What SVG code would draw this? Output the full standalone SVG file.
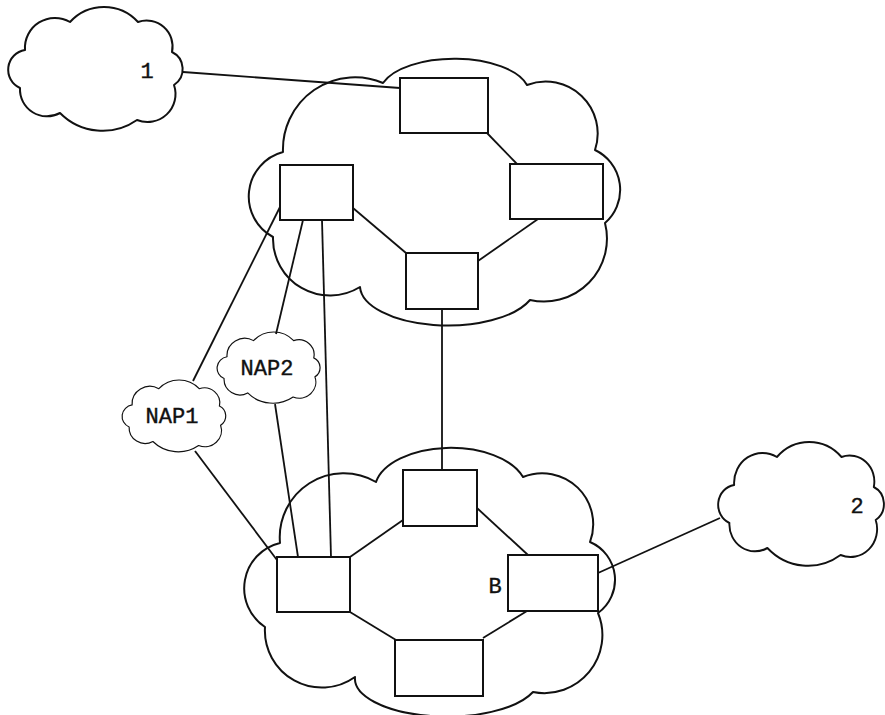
<svg xmlns="http://www.w3.org/2000/svg" width="885" height="715" viewBox="0 0 885 715">
  <style>
    .cloud { fill: none; stroke: #111; stroke-width: 2; vector-effect: non-scaling-stroke; stroke-linejoin: round; }
    .box { fill: #fff; stroke: #111; stroke-width: 2; }
    .link { stroke: #111; stroke-width: 1.8; fill: none; }
    .label { font-family: "Liberation Mono", "Courier New", monospace; font-size: 22px; fill: #111; stroke: #111; stroke-width: 0.4; text-anchor: middle; dominant-baseline: central; }
  </style>
  <defs>
    <!-- small cloud outline, local box 175 x 124 -->
    <path id="smallCloud" d="M62,15 A46,46 0 0 1 130,15 A26,26 0 0 1 164,45 A19,19 0 0 1 166,78 A28,28 0 0 1 129,113 A60,60 0 0 1 52,106 A27,27 0 0 1 12,81 A20,20 0 0 1 17,43 A30,30 0 0 1 62,15 Z"/>
  </defs>
  <rect width="885" height="715" fill="#fff"/>

  <!-- connectors -->
  <g id="connectors">
    <line class="link" x1="183" y1="72" x2="400" y2="88"/>
    <line class="link" x1="487" y1="133" x2="517" y2="164"/>
    <line class="link" x1="353" y1="208" x2="406" y2="253"/>
    <line class="link" x1="538" y1="219" x2="478" y2="261"/>
    <line class="link" x1="442" y1="309" x2="442" y2="470"/>
    <line class="link" x1="280" y1="207" x2="193" y2="381"/>
    <line class="link" x1="303" y1="220" x2="276" y2="334"/>
    <line class="link" x1="322" y1="220" x2="331" y2="557"/>
    <line class="link" x1="275" y1="404" x2="298" y2="557"/>
    <line class="link" x1="195" y1="451" x2="277" y2="560"/>
    <line class="link" x1="350" y1="557" x2="403" y2="520"/>
    <line class="link" x1="477" y1="508" x2="528" y2="555"/>
    <line class="link" x1="350" y1="612" x2="396" y2="640"/>
    <line class="link" x1="527" y1="611" x2="483" y2="638"/>
    <line class="link" x1="598" y1="573" x2="720" y2="518"/>
  </g>

  <!-- external network 1 -->
  <g id="cloud1">
    <use href="#smallCloud" class="cloud" transform="translate(8,7)"/>
    <text class="label" x="147" y="72">1</text>
  </g>

  <!-- external network 2 -->
  <g id="cloud2">
    <use href="#smallCloud" class="cloud" transform="translate(718,442) scale(0.95,1)"/>
    <text class="label" x="857" y="507">2</text>
  </g>

  <!-- access points -->
  <g id="nap1">
    <use href="#smallCloud" class="cloud" transform="translate(122,380) scale(0.594,0.58)"/>
    <text class="label" x="172" y="417">NAP1</text>
  </g>
  <g id="nap2">
    <use href="#smallCloud" class="cloud" transform="translate(217,332) scale(0.59,0.575)"/>
    <text class="label" x="267" y="369">NAP2</text>
  </g>

  <!-- upper backbone -->
  <g id="backboneA">
    <path class="cloud" d="M383,83 A75,35 0 0 1 527,85 A52,52 0 0 1 595,150 A44,44 0 0 1 605,223 A63,63 0 0 1 530,300 A88,40 0 0 1 360,287 A57,57 0 0 1 273,237 A46,46 0 0 1 283,152 A72,72 0 0 1 383,83 Z"/>
    <rect id="a1" class="box" x="400" y="78" width="88" height="55"/>
    <rect id="a2" class="box" x="280" y="165" width="73" height="55"/>
    <rect id="a3" class="box" x="510" y="164" width="93" height="55"/>
    <rect id="a4" class="box" x="406" y="253" width="72" height="56"/>
  </g>

  <!-- lower backbone -->
  <g id="backboneB">
    <path class="cloud" d="M376,482 A76,42 0 0 1 523,477 A51,51 0 0 1 590,542 A41,41 0 0 1 598,613 A58,58 0 0 1 533,692 A92,38 0 0 1 355,677 A57,57 0 0 1 265,627 A46.5,46.5 0 0 1 280,543 A64,64 0 0 1 376,482 Z"/>
    <rect id="b1" class="box" x="403" y="470" width="74" height="56"/>
    <rect id="b2" class="box" x="277" y="557" width="73" height="55"/>
    <rect id="b3" class="box" x="508" y="555" width="90" height="56"/>
    <rect id="b4" class="box" x="395" y="640" width="88" height="56"/>
    <text class="label" x="495" y="587">B</text>
  </g>
</svg>
